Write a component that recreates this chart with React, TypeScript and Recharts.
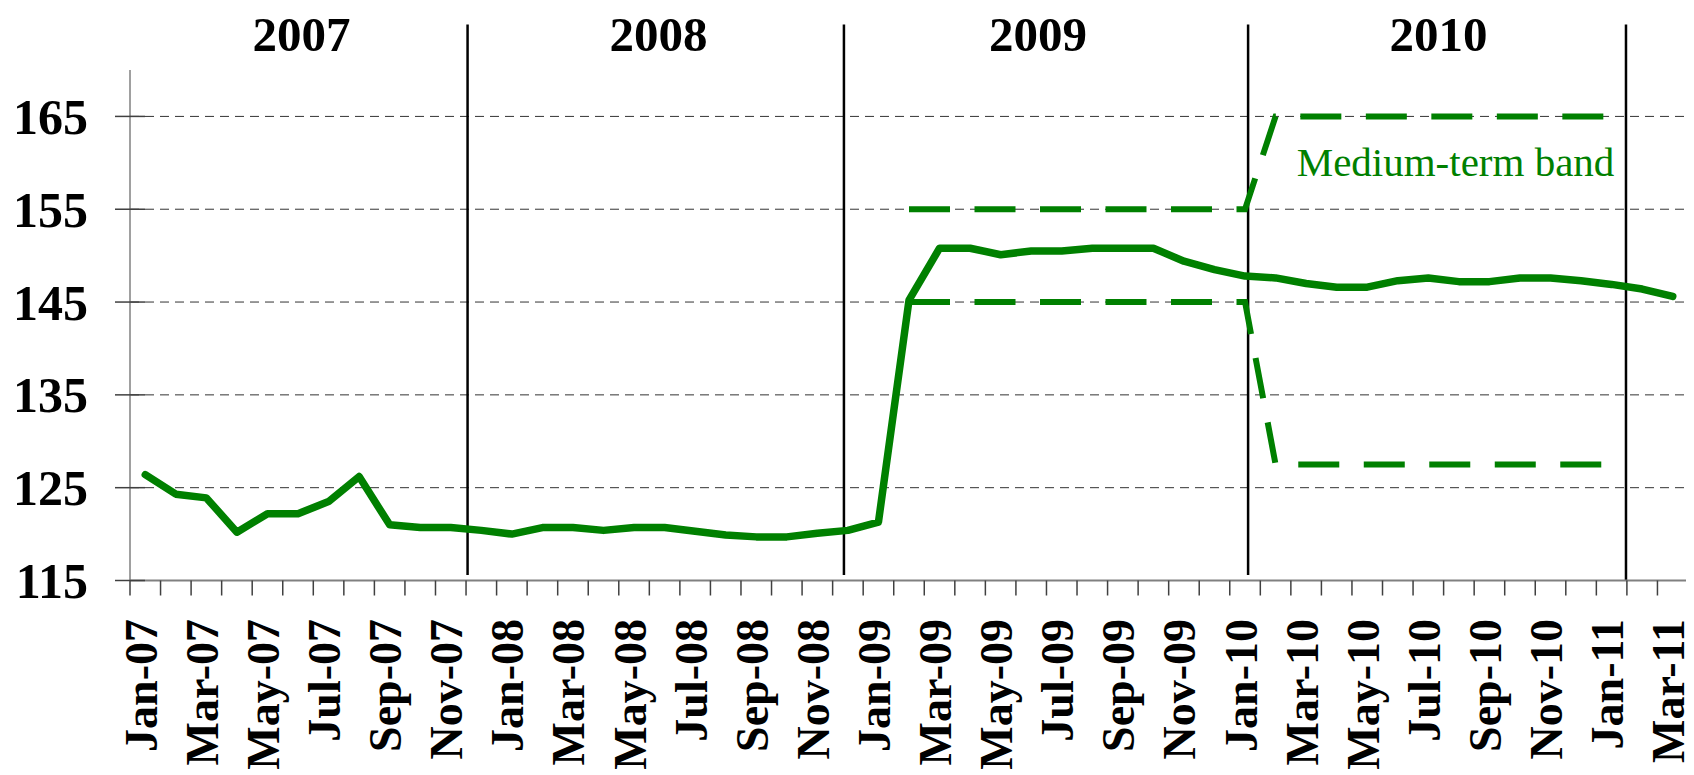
import React from 'react';
import { LineChart, Line, XAxis, YAxis, ReferenceLine, ReferenceDot, ReferenceArea } from 'recharts';

const months = [
  'Jan-07','Feb-07','Mar-07','Apr-07','May-07','Jun-07','Jul-07','Aug-07','Sep-07','Oct-07','Nov-07','Dec-07',
  'Jan-08','Feb-08','Mar-08','Apr-08','May-08','Jun-08','Jul-08','Aug-08','Sep-08','Oct-08','Nov-08','Dec-08',
  'Jan-09','Feb-09','Mar-09','Apr-09','May-09','Jun-09','Jul-09','Aug-09','Sep-09','Oct-09','Nov-09','Dec-09',
  'Jan-10','Feb-10','Mar-10','Apr-10','May-10','Jun-10','Jul-10','Aug-10','Sep-10','Oct-10','Nov-10','Dec-10',
  'Jan-11','Feb-11','Mar-11',
];

const rate = [
  126.4, 124.3, 123.9, 120.2, 122.2, 122.2, 123.5, 126.2, 121.0, 120.7, 120.7, 120.4,
  120.0, 120.7, 120.7, 120.4, 120.7, 120.7, 120.3, 119.9, 119.7, 119.7, 120.1, 120.4,
  121.3, 145.2, 150.8, 150.8, 150.1, 150.5, 150.5, 150.8, 150.8, 150.8, 149.4, 148.5,
  147.8, 147.6, 147.0, 146.6, 146.6, 147.3, 147.6, 147.2, 147.2, 147.6, 147.6, 147.3,
  146.9, 146.4, 145.6,
];

const bandUpper = [
  null, null, null, null, null, null, null, null, null, null, null, null,
  null, null, null, null, null, null, null, null, null, null, null, null,
  null, 155, 155, 155, 155, 155, 155, 155, 155, 155, 155, 155,
  155, 165, 165, 165, 165, 165, 165, 165, 165, 165, 165, 165,
  165, null, null,
];

const bandLower = [
  null, null, null, null, null, null, null, null, null, null, null, null,
  null, null, null, null, null, null, null, null, null, null, null, null,
  null, 145, 145, 145, 145, 145, 145, 145, 145, 145, 145, 145,
  145, 127.5, 127.5, 127.5, 127.5, 127.5, 127.5, 127.5, 127.5, 127.5, 127.5, 127.5,
  127.5, null, null,
];

const yTicks = [115, 125, 135, 145, 155, 165];
const gridValues = [125, 135, 145, 155, 165];
const years = ['2007', '2008', '2009', '2010'];
const yearLabelX = [5.61, 17.3, 29.72, 42.83];
const yearSeparatorX = [11.05, 23.37, 36.6, 48.97];
const bandLabel = 'Medium-term band';

const chartData = months.map((m, i) => ({
  x: i + 0.5,
  month: m,
  rate: rate[i],
  upper: bandUpper[i],
  lower: bandLower[i],
}));

const boundaryTicks = months.map((_, i) => i).concat([months.length]);
const labelTicks = months.map((_, i) => i).filter((i) => i % 2 === 0).map((i) => i + 0.5);
const xTicks = [...boundaryTicks, ...labelTicks].sort((a, b) => a - b);

const SERIF = '"Liberation Serif", "Times New Roman", serif';
const GREEN = '#008000';

const XTick = (props: any) => {
  const { x, y, payload } = props;
  const v = payload.value;
  const axisY = y - 15;
  if (Number.isInteger(v)) {
    return <line x1={x} x2={x} y1={axisY} y2={axisY + 15} stroke="#404040" strokeWidth={1.5} />;
  }
  const label = months[Math.floor(v)];
  return (
    <text
      transform={`translate(${x + 11.5},${axisY + 38.5}) rotate(-90)`}
      textAnchor="end"
      fontFamily={SERIF}
      fontWeight="bold"
      fontSize={46}
      fill="#000"
    >
      {label}
    </text>
  );
};

const YTick = (props: any) => {
  const { x, y, payload } = props;
  return (
    <g>
      <line x1={x + 27} x2={x + 57} y1={y} y2={y} stroke="#404040" strokeWidth={1.5} />
      <text x={x} y={y} dy="0.35em" textAnchor="end" fontFamily={SERIF} fontWeight="bold" fontSize={50} fill="#000">
        {payload.value}
      </text>
    </g>
  );
};

const makeYearLabel = (text: string) => (p: any) => {
  const vb = p.viewBox || {};
  const cx = vb.x + vb.width / 2;
  const cy = vb.y + vb.height / 2;
  return (
    <text x={cx} y={cy} dy="0.36em" textAnchor="middle" fontFamily={SERIF} fontWeight="bold" fontSize={49} fill="#000">
      {text}
    </text>
  );
};

export default function App() {
  return (
    <div style={{ width: 1686, height: 767 }}>
      <LineChart width={1686} height={767} data={chartData} margin={{ top: 62, right: 6, left: 22, bottom: 0 }}>
        <XAxis
          type="number"
          dataKey="x"
          domain={[0, 51]}
          ticks={xTicks}
          interval={0}
          allowDataOverflow
          tickLine={false}
          tickSize={15}
          tickMargin={0}
          tick={XTick}
          axisLine={{ stroke: '#808080', strokeWidth: 2 }}
          height={194.5}
        />
        <YAxis
          type="number"
          domain={[115, 170]}
          ticks={yTicks}
          interval={0}
          allowDataOverflow
          width={100}
          tickLine={false}
          tickSize={15}
          tickMargin={27}
          tick={YTick}
          axisLine={{ stroke: '#808080', strokeWidth: 1.5 }}
        />
        {gridValues.map((g) => (
          <ReferenceLine key={`grid-${g}`} y={g} stroke="#333" strokeWidth={1} strokeDasharray="9 6" />
        ))}
        {yearSeparatorX.map((sx, i) => (
          <ReferenceLine
            key={`sep-${i}`}
            segment={[{ x: sx, y: 174.9 }, { x: sx, y: i === 3 ? 115 : 115.6 }]}
            stroke="#000"
            strokeWidth={2.5}
            ifOverflow="visible"
          />
        ))}
        {years.map((yr, i) => (
          <ReferenceArea
            key={`yr-${yr}`}
            x1={yearLabelX[i] - 3}
            x2={yearLabelX[i] + 3}
            y1={171.5}
            y2={176.5}
            fill="none"
            stroke="none"
            ifOverflow="visible"
            label={makeYearLabel(yr)}
          />
        ))}
        <ReferenceDot
          x={43.39}
          y={160.1}
          r={0}
          fill="none"
          stroke="none"
          ifOverflow="visible"
          label={{ value: bandLabel, position: 'center', fontFamily: SERIF, fontSize: 41, fill: GREEN }}
        />
        <Line
          type="linear"
          dataKey="upper"
          stroke={GREEN}
          strokeWidth={6}
          strokeDasharray="41 24.5"
          dot={false}
          activeDot={false}
          isAnimationActive={false}
        />
        <Line
          type="linear"
          dataKey="lower"
          stroke={GREEN}
          strokeWidth={6}
          strokeDasharray="41 24.5"
          dot={false}
          activeDot={false}
          isAnimationActive={false}
        />
        <Line
          type="linear"
          dataKey="rate"
          stroke={GREEN}
          strokeWidth={7.5}
          strokeLinejoin="round"
          strokeLinecap="round"
          dot={false}
          activeDot={false}
          isAnimationActive={false}
        />
      </LineChart>
    </div>
  );
}
